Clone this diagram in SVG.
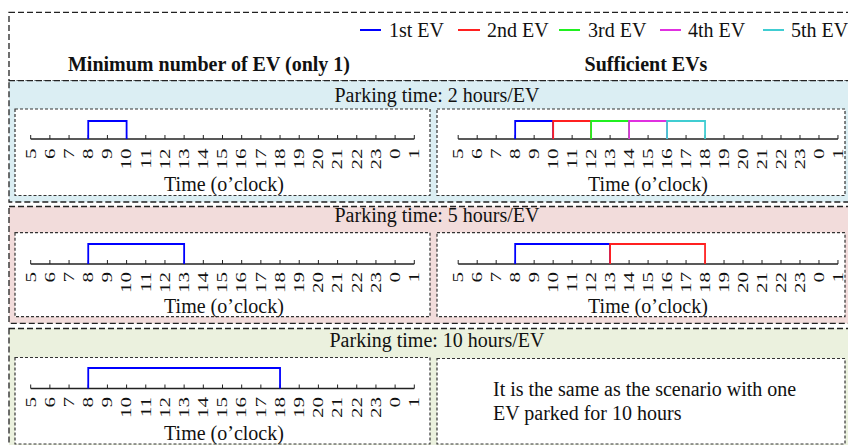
<svg xmlns="http://www.w3.org/2000/svg" width="848" height="445" viewBox="0 0 848 445">
<style>
text { font-family: "Liberation Serif", "Times New Roman", serif; font-size: 20px; fill: #111; }
.title { font-weight: bold; text-anchor: middle; }
.mid { text-anchor: middle; }
.frame { fill: none; stroke: #222; stroke-width: 1.3; stroke-dasharray: 6 3; }
.band { stroke: #222; stroke-width: 1.3; stroke-dasharray: 6 3; }
.panel { fill: #fff; stroke: #333; stroke-width: 1.2; stroke-dasharray: 3 2; }
.axis { fill: none; stroke: #222; stroke-width: 1.3; }
.tick { fill: none; stroke: #222; stroke-width: 1; }
.lbl text { text-anchor: end; font-size: 21px; }
.ev { fill: none; stroke-width: 1.8; }
.c1 { stroke: #0000ff; } .c2 { stroke: #ff2020; } .c3 { stroke: #20f020; } .c4 { stroke: #e030e0; } .c5 { stroke: #40cdd2; }
.leg { stroke-width: 2; }
</style>

<g id="header">
  <rect class="frame" x="9" y="12.3" width="850" height="68.4"/>
  <g id="legend">
    <line class="leg c1" x1="360" y1="30" x2="381" y2="30"/><text x="389" y="36.7">1st EV</text>
    <line class="leg c2" x1="458" y1="30" x2="480" y2="30"/><text x="487" y="36.7">2nd EV</text>
    <line class="leg c3" x1="559" y1="30" x2="580" y2="30"/><text x="588" y="36.7">3rd EV</text>
    <line class="leg c4" x1="660" y1="30" x2="681" y2="30"/><text x="688" y="36.7">4th EV</text>
    <line class="leg c5" x1="763" y1="30" x2="784" y2="30"/><text x="791" y="36.7">5th EV</text>
  </g>
  <text class="title" x="209" y="71">Minimum number of EV (only 1)</text>
  <text class="title" x="646" y="71">Sufficient EVs</text>
</g>

<!-- Row 1 -->
<g id="row1">
  <rect class="band" x="9" y="80.7" width="850" height="121.3" fill="#dbeef3"/>
  <text class="mid" x="437" y="101.5">Parking time: 2 hours/EV</text>
  <g id="r1-left">
    <rect class="panel" x="15" y="109" width="415" height="86.5"/>
    <g transform="translate(30.7,139)">
      <path class="axis" d="M0,0H383.6"/>
      <path class="tick" d="M0,0V-4M19.18,0V-4M38.36,0V-4M57.54,0V-4M76.72,0V-4M95.9,0V-4M115.08,0V-4M134.26,0V-4M153.44,0V-4M172.62,0V-4M191.8,0V-4M210.98,0V-4M230.16,0V-4M249.34,0V-4M268.52,0V-4M287.7,0V-4M306.88,0V-4M326.06,0V-4M345.24,0V-4M364.42,0V-4M383.6,0V-4"/>
      <path class="ev c1" d="M57.54,0V-18H95.9V0"/>
      <g class="lbl" transform="translate(4.8,9.5)">
        <text transform="translate(0,0) rotate(-90) scale(1,.68)">5</text>
        <text transform="translate(19.18,0) rotate(-90) scale(1,.68)">6</text>
        <text transform="translate(38.36,0) rotate(-90) scale(1,.68)">7</text>
        <text transform="translate(57.54,0) rotate(-90) scale(1,.68)">8</text>
        <text transform="translate(76.72,0) rotate(-90) scale(1,.68)">9</text>
        <text transform="translate(95.9,0) rotate(-90) scale(1,.68)">10</text>
        <text transform="translate(115.08,0) rotate(-90) scale(1,.68)">11</text>
        <text transform="translate(134.26,0) rotate(-90) scale(1,.68)">12</text>
        <text transform="translate(153.44,0) rotate(-90) scale(1,.68)">13</text>
        <text transform="translate(172.62,0) rotate(-90) scale(1,.68)">14</text>
        <text transform="translate(191.8,0) rotate(-90) scale(1,.68)">15</text>
        <text transform="translate(210.98,0) rotate(-90) scale(1,.68)">16</text>
        <text transform="translate(230.16,0) rotate(-90) scale(1,.68)">17</text>
        <text transform="translate(249.34,0) rotate(-90) scale(1,.68)">18</text>
        <text transform="translate(268.52,0) rotate(-90) scale(1,.68)">19</text>
        <text transform="translate(287.7,0) rotate(-90) scale(1,.68)">20</text>
        <text transform="translate(306.88,0) rotate(-90) scale(1,.68)">21</text>
        <text transform="translate(326.06,0) rotate(-90) scale(1,.68)">22</text>
        <text transform="translate(345.24,0) rotate(-90) scale(1,.68)">23</text>
        <text transform="translate(364.42,0) rotate(-90) scale(1,.68)">0</text>
        <text transform="translate(383.6,0) rotate(-90) scale(1,.68)">1</text>
      </g>
    </g>
    <text class="mid" x="224" y="190.5">Time (o’clock)</text>
  </g>
  <g id="r1-right">
    <rect class="panel" x="437" y="109" width="408" height="86.5"/>
    <g transform="translate(458.2,139) scale(0.99,1)">
      <path class="axis" d="M0,0H383.6"/>
      <path class="tick" d="M0,0V-4M19.18,0V-4M38.36,0V-4M57.54,0V-4M76.72,0V-4M95.9,0V-4M115.08,0V-4M134.26,0V-4M153.44,0V-4M172.62,0V-4M191.8,0V-4M210.98,0V-4M230.16,0V-4M249.34,0V-4M268.52,0V-4M287.7,0V-4M306.88,0V-4M326.06,0V-4M345.24,0V-4M364.42,0V-4M383.6,0V-4"/>
      <path class="ev c1" d="M57.54,0V-18H95.9V0"/>
      <path class="ev c2" d="M95.9,0V-18H134.26V0"/>
      <path class="ev c3" d="M134.26,0V-18H172.62V0"/>
      <path class="ev c4" d="M172.62,0V-18H210.98V0"/>
      <path class="ev c5" d="M210.98,0V-18H249.34V0"/>
      <g class="lbl" transform="translate(4.8,9.5)">
        <text transform="translate(0,0) rotate(-90) scale(1,.68)">5</text>
        <text transform="translate(19.18,0) rotate(-90) scale(1,.68)">6</text>
        <text transform="translate(38.36,0) rotate(-90) scale(1,.68)">7</text>
        <text transform="translate(57.54,0) rotate(-90) scale(1,.68)">8</text>
        <text transform="translate(76.72,0) rotate(-90) scale(1,.68)">9</text>
        <text transform="translate(95.9,0) rotate(-90) scale(1,.68)">10</text>
        <text transform="translate(115.08,0) rotate(-90) scale(1,.68)">11</text>
        <text transform="translate(134.26,0) rotate(-90) scale(1,.68)">12</text>
        <text transform="translate(153.44,0) rotate(-90) scale(1,.68)">13</text>
        <text transform="translate(172.62,0) rotate(-90) scale(1,.68)">14</text>
        <text transform="translate(191.8,0) rotate(-90) scale(1,.68)">15</text>
        <text transform="translate(210.98,0) rotate(-90) scale(1,.68)">16</text>
        <text transform="translate(230.16,0) rotate(-90) scale(1,.68)">17</text>
        <text transform="translate(249.34,0) rotate(-90) scale(1,.68)">18</text>
        <text transform="translate(268.52,0) rotate(-90) scale(1,.68)">19</text>
        <text transform="translate(287.7,0) rotate(-90) scale(1,.68)">20</text>
        <text transform="translate(306.88,0) rotate(-90) scale(1,.68)">21</text>
        <text transform="translate(326.06,0) rotate(-90) scale(1,.68)">22</text>
        <text transform="translate(345.24,0) rotate(-90) scale(1,.68)">23</text>
        <text transform="translate(364.42,0) rotate(-90) scale(1,.68)">0</text>
        <text transform="translate(383.6,0) rotate(-90) scale(1,.68)">1</text>
      </g>
    </g>
    <text class="mid" x="648" y="190.5">Time (o’clock)</text>
  </g>
</g>

<!-- Row 2 -->
<g id="row2">
  <rect class="band" x="9" y="206.5" width="850" height="116.8" fill="#f2dcdb"/>
  <text class="mid" x="437" y="222">Parking time: 5 hours/EV</text>
  <g id="r2-left">
    <rect class="panel" x="15" y="232.7" width="415" height="84"/>
    <g transform="translate(30.7,264)">
      <path class="axis" d="M0,0H383.6"/>
      <path class="tick" d="M0,0V-4M19.18,0V-4M38.36,0V-4M57.54,0V-4M76.72,0V-4M95.9,0V-4M115.08,0V-4M134.26,0V-4M153.44,0V-4M172.62,0V-4M191.8,0V-4M210.98,0V-4M230.16,0V-4M249.34,0V-4M268.52,0V-4M287.7,0V-4M306.88,0V-4M326.06,0V-4M345.24,0V-4M364.42,0V-4M383.6,0V-4"/>
      <path class="ev c1" d="M57.54,0V-20H153.44V0"/>
      <g class="lbl" transform="translate(4.8,8)">
        <text transform="translate(0,0) rotate(-90) scale(1,.68)">5</text>
        <text transform="translate(19.18,0) rotate(-90) scale(1,.68)">6</text>
        <text transform="translate(38.36,0) rotate(-90) scale(1,.68)">7</text>
        <text transform="translate(57.54,0) rotate(-90) scale(1,.68)">8</text>
        <text transform="translate(76.72,0) rotate(-90) scale(1,.68)">9</text>
        <text transform="translate(95.9,0) rotate(-90) scale(1,.68)">10</text>
        <text transform="translate(115.08,0) rotate(-90) scale(1,.68)">11</text>
        <text transform="translate(134.26,0) rotate(-90) scale(1,.68)">12</text>
        <text transform="translate(153.44,0) rotate(-90) scale(1,.68)">13</text>
        <text transform="translate(172.62,0) rotate(-90) scale(1,.68)">14</text>
        <text transform="translate(191.8,0) rotate(-90) scale(1,.68)">15</text>
        <text transform="translate(210.98,0) rotate(-90) scale(1,.68)">16</text>
        <text transform="translate(230.16,0) rotate(-90) scale(1,.68)">17</text>
        <text transform="translate(249.34,0) rotate(-90) scale(1,.68)">18</text>
        <text transform="translate(268.52,0) rotate(-90) scale(1,.68)">19</text>
        <text transform="translate(287.7,0) rotate(-90) scale(1,.68)">20</text>
        <text transform="translate(306.88,0) rotate(-90) scale(1,.68)">21</text>
        <text transform="translate(326.06,0) rotate(-90) scale(1,.68)">22</text>
        <text transform="translate(345.24,0) rotate(-90) scale(1,.68)">23</text>
        <text transform="translate(364.42,0) rotate(-90) scale(1,.68)">0</text>
        <text transform="translate(383.6,0) rotate(-90) scale(1,.68)">1</text>
      </g>
    </g>
    <text class="mid" x="224" y="312.5">Time (o’clock)</text>
  </g>
  <g id="r2-right">
    <rect class="panel" x="437" y="232.7" width="408" height="84"/>
    <g transform="translate(458.2,264) scale(0.99,1)">
      <path class="axis" d="M0,0H383.6"/>
      <path class="tick" d="M0,0V-4M19.18,0V-4M38.36,0V-4M57.54,0V-4M76.72,0V-4M95.9,0V-4M115.08,0V-4M134.26,0V-4M153.44,0V-4M172.62,0V-4M191.8,0V-4M210.98,0V-4M230.16,0V-4M249.34,0V-4M268.52,0V-4M287.7,0V-4M306.88,0V-4M326.06,0V-4M345.24,0V-4M364.42,0V-4M383.6,0V-4"/>
      <path class="ev c1" d="M57.54,0V-20H153.44V0"/>
      <path class="ev c2" d="M153.44,0V-20H249.34V0"/>
      <g class="lbl" transform="translate(4.8,8)">
        <text transform="translate(0,0) rotate(-90) scale(1,.68)">5</text>
        <text transform="translate(19.18,0) rotate(-90) scale(1,.68)">6</text>
        <text transform="translate(38.36,0) rotate(-90) scale(1,.68)">7</text>
        <text transform="translate(57.54,0) rotate(-90) scale(1,.68)">8</text>
        <text transform="translate(76.72,0) rotate(-90) scale(1,.68)">9</text>
        <text transform="translate(95.9,0) rotate(-90) scale(1,.68)">10</text>
        <text transform="translate(115.08,0) rotate(-90) scale(1,.68)">11</text>
        <text transform="translate(134.26,0) rotate(-90) scale(1,.68)">12</text>
        <text transform="translate(153.44,0) rotate(-90) scale(1,.68)">13</text>
        <text transform="translate(172.62,0) rotate(-90) scale(1,.68)">14</text>
        <text transform="translate(191.8,0) rotate(-90) scale(1,.68)">15</text>
        <text transform="translate(210.98,0) rotate(-90) scale(1,.68)">16</text>
        <text transform="translate(230.16,0) rotate(-90) scale(1,.68)">17</text>
        <text transform="translate(249.34,0) rotate(-90) scale(1,.68)">18</text>
        <text transform="translate(268.52,0) rotate(-90) scale(1,.68)">19</text>
        <text transform="translate(287.7,0) rotate(-90) scale(1,.68)">20</text>
        <text transform="translate(306.88,0) rotate(-90) scale(1,.68)">21</text>
        <text transform="translate(326.06,0) rotate(-90) scale(1,.68)">22</text>
        <text transform="translate(345.24,0) rotate(-90) scale(1,.68)">23</text>
        <text transform="translate(364.42,0) rotate(-90) scale(1,.68)">0</text>
        <text transform="translate(383.6,0) rotate(-90) scale(1,.68)">1</text>
      </g>
    </g>
    <text class="mid" x="648" y="312.5">Time (o’clock)</text>
  </g>
</g>

<!-- Row 3 -->
<g id="row3">
  <rect class="band" x="9" y="328.5" width="850" height="125" fill="#ebf1de"/>
  <text class="mid" x="437" y="347">Parking time: 10 hours/EV</text>
  <g id="r3-left">
    <rect class="panel" x="15" y="357.5" width="415" height="86.5"/>
    <g transform="translate(30.7,388.5)">
      <path class="axis" d="M0,0H383.6"/>
      <path class="tick" d="M0,0V-4M19.18,0V-4M38.36,0V-4M57.54,0V-4M76.72,0V-4M95.9,0V-4M115.08,0V-4M134.26,0V-4M153.44,0V-4M172.62,0V-4M191.8,0V-4M210.98,0V-4M230.16,0V-4M249.34,0V-4M268.52,0V-4M287.7,0V-4M306.88,0V-4M326.06,0V-4M345.24,0V-4M364.42,0V-4M383.6,0V-4"/>
      <path class="ev c1" d="M57.54,0V-20.5H249.34V0"/>
      <g class="lbl" transform="translate(4.8,8.5)">
        <text transform="translate(0,0) rotate(-90) scale(1,.68)">5</text>
        <text transform="translate(19.18,0) rotate(-90) scale(1,.68)">6</text>
        <text transform="translate(38.36,0) rotate(-90) scale(1,.68)">7</text>
        <text transform="translate(57.54,0) rotate(-90) scale(1,.68)">8</text>
        <text transform="translate(76.72,0) rotate(-90) scale(1,.68)">9</text>
        <text transform="translate(95.9,0) rotate(-90) scale(1,.68)">10</text>
        <text transform="translate(115.08,0) rotate(-90) scale(1,.68)">11</text>
        <text transform="translate(134.26,0) rotate(-90) scale(1,.68)">12</text>
        <text transform="translate(153.44,0) rotate(-90) scale(1,.68)">13</text>
        <text transform="translate(172.62,0) rotate(-90) scale(1,.68)">14</text>
        <text transform="translate(191.8,0) rotate(-90) scale(1,.68)">15</text>
        <text transform="translate(210.98,0) rotate(-90) scale(1,.68)">16</text>
        <text transform="translate(230.16,0) rotate(-90) scale(1,.68)">17</text>
        <text transform="translate(249.34,0) rotate(-90) scale(1,.68)">18</text>
        <text transform="translate(268.52,0) rotate(-90) scale(1,.68)">19</text>
        <text transform="translate(287.7,0) rotate(-90) scale(1,.68)">20</text>
        <text transform="translate(306.88,0) rotate(-90) scale(1,.68)">21</text>
        <text transform="translate(326.06,0) rotate(-90) scale(1,.68)">22</text>
        <text transform="translate(345.24,0) rotate(-90) scale(1,.68)">23</text>
        <text transform="translate(364.42,0) rotate(-90) scale(1,.68)">0</text>
        <text transform="translate(383.6,0) rotate(-90) scale(1,.68)">1</text>
      </g>
    </g>
    <text class="mid" x="224" y="439.5">Time (o’clock)</text>
  </g>
  <g id="r3-right">
    <rect class="panel" x="437" y="358.5" width="408" height="85.5"/>
    <text x="493" y="396">It is the same as the scenario with one</text>
    <text x="493" y="420">EV parked for 10 hours</text>
  </g>
</g>
</svg>
